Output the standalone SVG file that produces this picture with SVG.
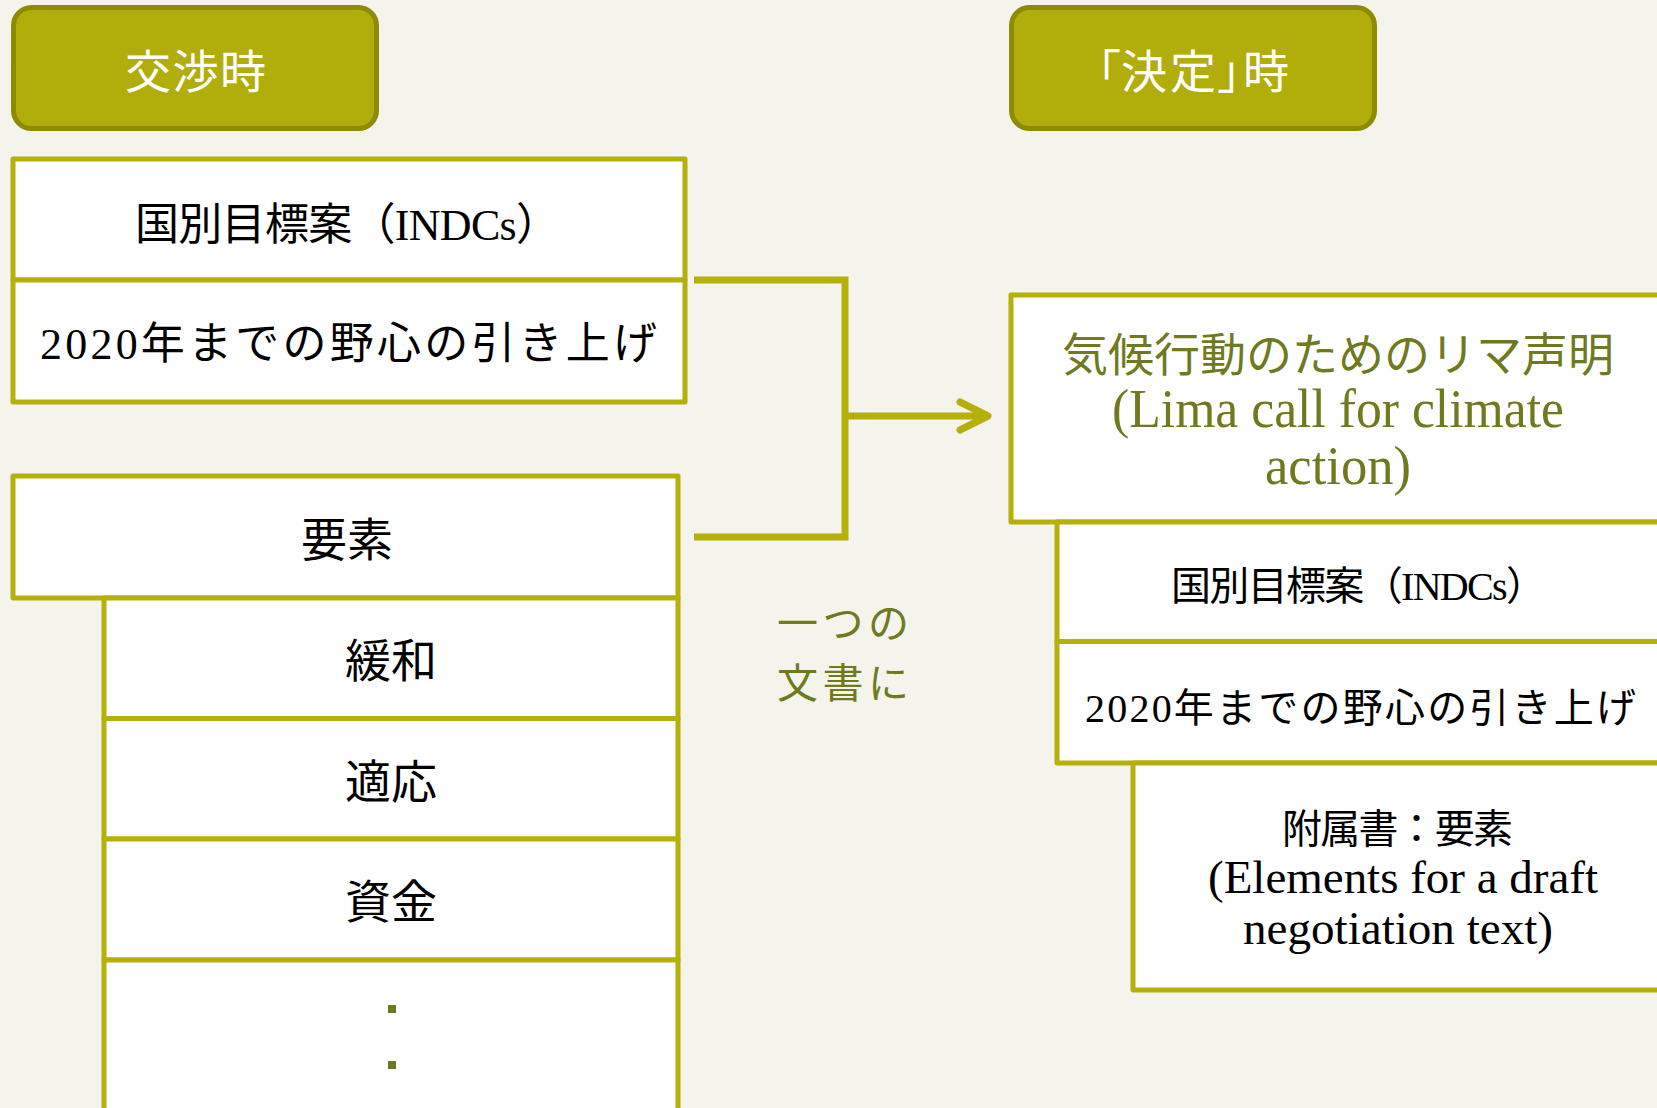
<svg xmlns="http://www.w3.org/2000/svg" width="1657" height="1108" viewBox="0 0 1657 1108">
<style>
.bg{fill:#f4f3ec}
.hdr{fill:#b1ae0c;stroke:#8e8b00;stroke-width:5}
.hdrt{font-family:"Noto Sans CJK JP","Noto Sans",sans-serif;font-size:46px;fill:#ffffff}
.box{fill:#ffffff;stroke:#b5b00a;stroke-width:5;stroke-linejoin:round}
.t{font-family:"Liberation Serif","Noto Sans CJK JP",serif;fill:#000000}
.s{font-family:"Noto Sans CJK JP","Noto Sans",sans-serif;fill:#000000}
.olive{fill:#6f7a1e}
.conn{fill:none;stroke:#b5b00a;stroke-width:7}
.dot{fill:#6b7a22}
</style>
<defs>
<marker id="chev" viewBox="-34 -20 40 40" refX="0" refY="0" markerWidth="40" markerHeight="40" markerUnits="userSpaceOnUse" orient="auto" overflow="visible">
<path d="M-28,-14 L0,0 L-28,14" fill="none" stroke="#b5b00a" stroke-width="7" stroke-linecap="round" stroke-linejoin="round"/>
</marker>
</defs>
<rect class="bg" x="0" y="0" width="1657" height="1108"/>

<g id="hdr-negotiation">
<rect class="hdr" x="13.5" y="7.5" width="363" height="121" rx="18"/>
<text class="hdrt" x="125" y="88" textLength="141">交渉時</text>
</g>
<g id="hdr-decision">
<rect class="hdr" x="1011.5" y="7.5" width="363" height="121" rx="18"/>
<text class="hdrt" x="1075 1121 1170 1217 1243" y="88">「決定」時</text>
</g>

<g id="left-indcs">
<rect class="box" x="13" y="159" width="672" height="121"/>
<text class="t" x="135" y="240" font-size="44" textLength="425">国別目標案（INDCs）</text>
</g>
<g id="left-ambition">
<rect class="box" x="13" y="280" width="672" height="122"/>
<text class="t" x="40" y="359" font-size="44" textLength="617">2020年までの野心の引き上げ</text>
</g>

<g id="left-elements">
<rect class="box" x="13" y="476" width="665" height="122"/>
<text class="s" x="347" y="556" font-size="46" text-anchor="middle">要素</text>
</g>
<g id="left-mitigation">
<rect class="box" x="104" y="598" width="574" height="120.5"/>
<text class="s" x="391" y="677" font-size="46" text-anchor="middle">緩和</text>
</g>
<g id="left-adaptation">
<rect class="box" x="104" y="718.5" width="574" height="120.5"/>
<text class="s" x="391" y="798" font-size="46" text-anchor="middle">適応</text>
</g>
<g id="left-finance">
<rect class="box" x="104" y="839" width="574" height="121"/>
<text class="s" x="391" y="918" font-size="46" text-anchor="middle">資金</text>
</g>
<g id="left-more">
<rect class="box" x="104" y="960" width="574" height="200"/>
<rect class="dot" x="388" y="1005" width="8" height="8"/>
<rect class="dot" x="388" y="1061" width="8" height="8"/>
</g>

<g id="connectors">
<path class="conn" d="M694,280 H845 V537 H694"/>
<path class="conn" d="M845,416 H988" marker-end="url(#chev)"/>
</g>

<g id="label-one-doc">
<text class="s olive" x="777" y="638" font-size="41" textLength="132">一つの</text>
<text class="s olive" x="777" y="698" font-size="41" textLength="132">文書に</text>
</g>

<g id="right-lima">
<rect class="box" x="1011" y="295" width="700" height="227"/>
<text class="t olive" x="1062" y="371" font-size="46" textLength="552">気候行動のためのリマ声明</text>
<text class="t olive" x="1112" y="427" font-size="54" textLength="452" lengthAdjust="spacingAndGlyphs">(Lima call for climate</text>
<text class="t olive" x="1265" y="484" font-size="54" textLength="146" lengthAdjust="spacingAndGlyphs">action)</text>
</g>
<g id="right-indcs">
<rect class="box" x="1057" y="522" width="700" height="119.5"/>
<text class="t" x="1171" y="600" font-size="40" textLength="375">国別目標案（INDCs）</text>
</g>
<g id="right-ambition">
<rect class="box" x="1057" y="641.5" width="700" height="121.5"/>
<text class="t" x="1085" y="722" font-size="40" textLength="551">2020年までの野心の引き上げ</text>
</g>
<g id="right-annex">
<rect class="box" x="1133" y="763" width="600" height="227"/>
<text class="t" x="1282" y="843" font-size="40" textLength="231">附属書：要素</text>
<text class="t" x="1208" y="893" font-size="47" textLength="390" lengthAdjust="spacingAndGlyphs">(Elements for a draft</text>
<text class="t" x="1243" y="944" font-size="47" textLength="310" lengthAdjust="spacingAndGlyphs">negotiation text)</text>
</g>
</svg>
